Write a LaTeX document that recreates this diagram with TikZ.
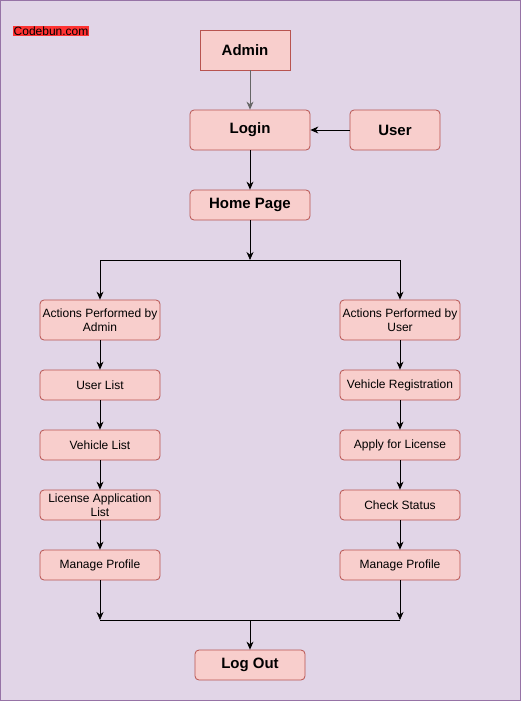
\documentclass[tikz,border=0pt]{standalone}
\usepackage{fontspec}
\setmainfont{Liberation Sans}
\usetikzlibrary{arrows.meta}
\definecolor{bgc}{HTML}{E1D5E7}
\definecolor{bgb}{HTML}{9673A6}
\definecolor{boxf}{HTML}{F8CECC}
\definecolor{boxd}{HTML}{B85450}
\definecolor{tagr}{HTML}{FF3333}
\hyphenpenalty=10000
\exhyphenpenalty=10000
\begin{document}
\begin{tikzpicture}[x=1pt,y=-1pt,
  base/.style={draw=boxd, fill=boxf, line width=0.8pt, inner sep=1pt, align=center, text=black},
  bigbox/.style={base, rounded corners=4pt, minimum width=120pt, minimum height=40pt, font=\fontsize{15}{18}\selectfont\bfseries},
  smallbox/.style={base, rounded corners=4pt, minimum width=120pt, minimum height=30pt, font=\fontsize{12}{14}\selectfont},
  arr/.style={draw=black, line width=0.8pt, -{Stealth[length=8pt,width=7pt]}},
  ln/.style={draw=black, line width=0.8pt}]
\useasboundingbox (0,0) rectangle (521,701);
\fill[bgc, draw=bgb, line width=1pt] (0.5,0.5) rectangle (520.5,700.5);
\node[fill=tagr, inner sep=0.5pt, font=\fontsize{12}{14}\selectfont, anchor=west] (tag) at (13,31) {Codebun.com};
\node[base, rounded corners=0pt, minimum width=90pt, minimum height=40pt, font=\fontsize{15}{18}\selectfont\bfseries] (admin) at (245,50) {Admin};
\node[bigbox] (login) at (250,130) {Login};
\node[bigbox, minimum width=90pt] (user) at (395,130) {User};
\node[bigbox, minimum height=30pt] (home) at (250,205) {Home Page};
\node[bigbox, minimum width=110pt, minimum height=30pt] (logout) at (250,665) {Log Out};
\node[smallbox, minimum height=40pt] (a1) at (100,320) {Actions Performed by\\Admin};
\node[smallbox] (a2) at (100,385) {User List};
\node[smallbox] (a3) at (100,445) {Vehicle List};
\node[smallbox] (a4) at (100,505) {License Application\\List};
\node[smallbox] (a5) at (100,565) {Manage Profile};
\node[smallbox, minimum height=40pt] (u1) at (400,320) {Actions Performed by\\User};
\node[smallbox] (u2) at (400,385) {Vehicle Registration};
\node[smallbox] (u3) at (400,445) {Apply for License};
\node[smallbox] (u4) at (400,505) {Check Status};
\node[smallbox] (u5) at (400,565) {Manage Profile};
\coordinate (bc) at (250,260);
\coordinate (bl) at (100,260);
\coordinate (bR) at (400,260);
\coordinate (ml) at (100,620);
\coordinate (mr) at (400,620);
\coordinate (mc) at (250,620);
\draw[arr, draw=black!60] (login.north |- admin.south) -- (login.north);
\draw[arr] (user.west) -- (login.east);
\draw[arr] (login) -- (home);
\draw[arr] (home) -- (bc);
\draw[ln] (bl) -- (bR);
\draw[arr] (bl) -- (a1.north);
\draw[arr] (bR) -- (u1.north);
\draw[arr] (a1) -- (a2);
\draw[arr] (a2) -- (a3);
\draw[arr] (a3) -- (a4);
\draw[arr] (a4) -- (a5);
\draw[arr] (u1) -- (u2);
\draw[arr] (u2) -- (u3);
\draw[arr] (u3) -- (u4);
\draw[arr] (u4) -- (u5);
\draw[arr] (a5) -- (ml);
\draw[arr] (u5) -- (mr);
\draw[ln] (ml) -- (mr);
\draw[arr] (mc) -- (logout.north);
\end{tikzpicture}
\end{document}
